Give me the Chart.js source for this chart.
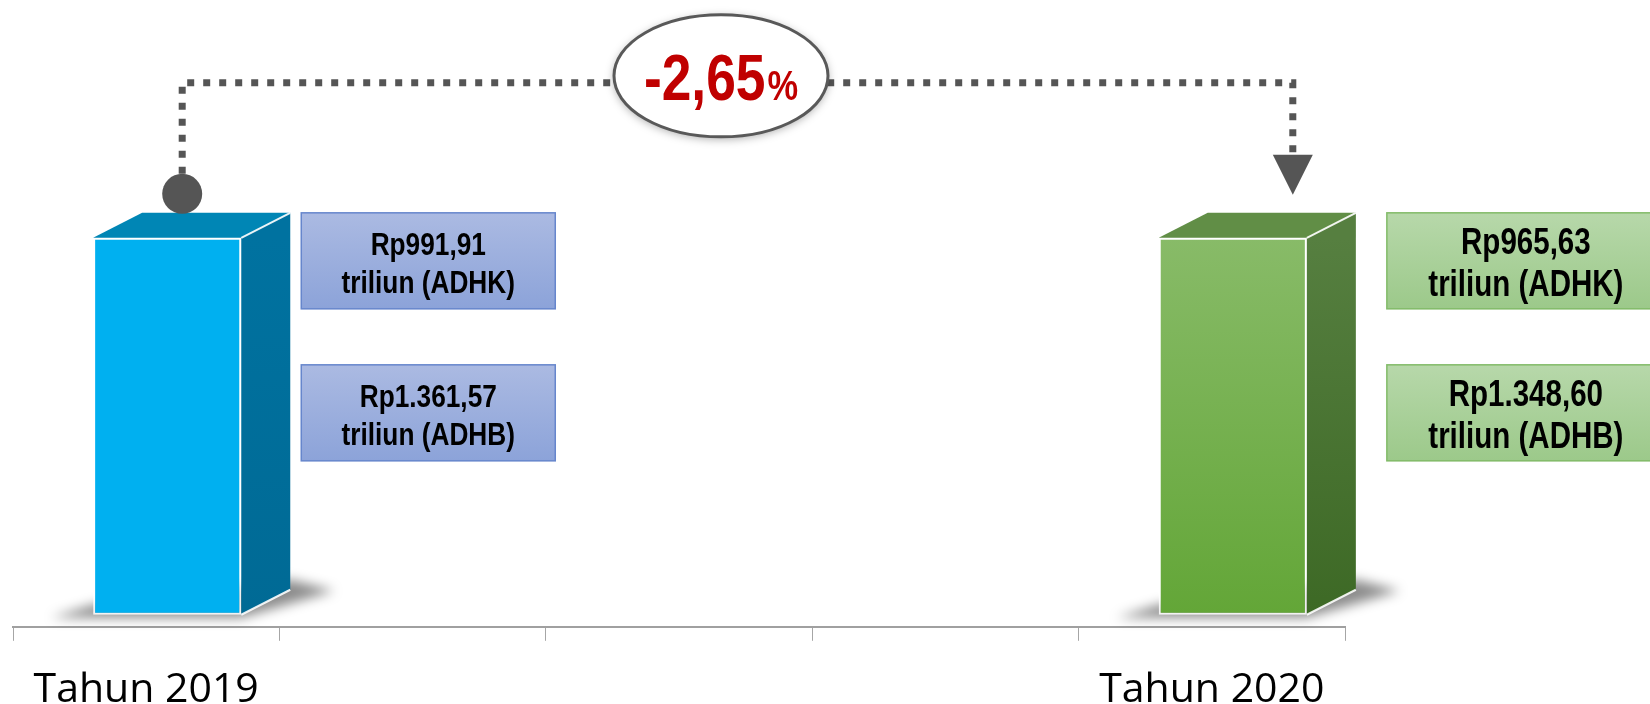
<!DOCTYPE html>
<html>
<head>
<meta charset="utf-8">
<script src="https://cdn.jsdelivr.net/npm/chart.js@4.4.1/dist/chart.umd.min.js"></script>
<style>
  html, body { margin: 0; padding: 0; background: #fff; }
  canvas { display: block; }
</style>
</head>
<body>
<canvas id="pdrbChart" width="1650" height="704"></canvas>
<script>
// data
const categories = ['Tahun 2019', '', '', '', 'Tahun 2020'];
const barValues = [100, null, null, null, 100];          // both columns drawn at the same height
const adhkValues = [991.91, null, null, null, 965.63];   // Rp triliun, constant prices
const adhbValues = [1361.57, null, null, null, 1348.60]; // Rp triliun, current prices

// styles per column
const frontTop    = ['#00B0F0', null, null, null, '#88BB68'];
const frontBottom = ['#00B0F0', null, null, null, '#63A637'];
const topFace     = ['#0086B5', null, null, null, '#618E46'];
const sideTop     = ['#0072A0', null, null, null, '#567F40'];
const sideBottom  = ['#006A95', null, null, null, '#3D6925'];
const boxTop      = ['#ABBAE2', null, null, null, '#B7D8AA'];
const boxBottom   = ['#8CA3D9', null, null, null, '#9CC98A'];
const boxBorder   = ['#6686CC', null, null, null, '#82BB68'];
const boxWidth    = [254, null, null, null, 278];
const boxGap      = [60, null, null, null, 80];
const boxFont     = [32, null, null, null, 36];

const DX = 21;              // front face shift of the 3D column
const DEPTH_X = 49, DEPTH_Y = 25;

function rupiah(v) {
  const parts = v.toFixed(2).split('.');
  return 'Rp' + parts[0].replace(/\B(?=(\d{3})+(?!\d))/g, '.') + ',' + parts[1];
}

function growthText() {
  const g = (adhkValues[4] / adhkValues[0] - 1) * 100;
  return g.toFixed(2).replace('.', ',');
}

const canvas = document.getElementById('pdrbChart');
const ctx = canvas.getContext('2d');

// is the narrow face installed? otherwise squeeze the regular one
function hasNarrow() {
  ctx.font = 'bold 40px "Liberation Sans Narrow", monospace';
  const a = ctx.measureText('Rp991,91 triliun').width;
  ctx.font = 'bold 40px monospace';
  const b = ctx.measureText('Rp991,91 triliun').width;
  return Math.abs(a - b) > 1;
}
const NARROW = hasNarrow();

function narrowText(c, text, x, y, size, align) {
  c.save();
  c.textAlign = align || 'center';
  c.textBaseline = 'alphabetic';
  if (NARROW) {
    c.font = 'bold ' + size + 'px "Liberation Sans Narrow"';
    c.fillText(text, x, y);
  } else {
    c.translate(x, y);
    c.scale(0.82, 1);
    c.font = 'bold ' + size + 'px "Liberation Sans", Arial, sans-serif';
    c.fillText(text, 0, 0);
  }
  c.restore();
}

function narrowWidth(c, text, size) {
  c.save();
  let w;
  if (NARROW) {
    c.font = 'bold ' + size + 'px "Liberation Sans Narrow"';
    w = c.measureText(text).width;
  } else {
    c.font = 'bold ' + size + 'px "Liberation Sans", Arial, sans-serif';
    w = c.measureText(text).width * 0.82;
  }
  c.restore();
  return w;
}

function frontFill(context) {
  const i = context.dataIndex;
  const chart = context.chart;
  if (!chart.chartArea || frontTop[i] === frontBottom[i]) return frontTop[i];
  const y = chart.scales.y;
  const g = chart.ctx.createLinearGradient(0, y.getPixelForValue(barValues[i]), 0, y.getPixelForValue(0));
  g.addColorStop(0, frontTop[i]);
  g.addColorStop(1, frontBottom[i]);
  return g;
}

// 3D column: shadow, top face and side face around the library's bar
const bar3d = {
  id: 'bar3d',
  beforeDatasetDraw(chart, args) {
    const c = chart.ctx;
    c.save();
    c.translate(DX, 0);
    args.meta.data.forEach(function(bar, i) {
      if (barValues[i] == null) return;
      const x0 = bar.x - bar.width / 2, x1 = bar.x + bar.width / 2, b = bar.base;
      c.save();
      c.filter = 'blur(6px)';
      c.fillStyle = 'rgba(0,0,0,0.45)';
      c.beginPath();
      c.moveTo(x0 - 42, b + 3);
      c.lineTo(x1, b + 3);
      c.lineTo(x1 + DEPTH_X + 44, b - DEPTH_Y + 1);
      c.lineTo(x1 + DEPTH_X, b - DEPTH_Y - 10);
      c.lineTo(x0, b - 10);
      c.closePath();
      c.fill();
      c.restore();
    });
  },
  afterDatasetDraw(chart, args) {
    const c = chart.ctx;
    args.meta.data.forEach(function(bar, i) {
      if (barValues[i] == null) return;
      const x0 = bar.x - bar.width / 2, x1 = bar.x + bar.width / 2;
      const t = bar.y, b = bar.base;

      c.fillStyle = topFace[i];
      c.beginPath();
      c.moveTo(x0, t);
      c.lineTo(x0 + DEPTH_X, t - DEPTH_Y);
      c.lineTo(x1 + DEPTH_X, t - DEPTH_Y);
      c.lineTo(x1, t);
      c.closePath();
      c.fill();

      const g = c.createLinearGradient(0, t, 0, b);
      g.addColorStop(0, sideTop[i]);
      g.addColorStop(1, sideBottom[i]);
      c.fillStyle = g;
      c.beginPath();
      c.moveTo(x1, t);
      c.lineTo(x1 + DEPTH_X, t - DEPTH_Y);
      c.lineTo(x1 + DEPTH_X, b - DEPTH_Y);
      c.lineTo(x1, b);
      c.closePath();
      c.fill();

      c.strokeStyle = 'rgba(255,255,255,0.9)';
      c.lineWidth = 2;
      c.beginPath();
      c.moveTo(x1, t);
      c.lineTo(x1 + DEPTH_X, t - DEPTH_Y);
      c.moveTo(x1, b);
      c.lineTo(x1 + DEPTH_X, b - DEPTH_Y);
      c.stroke();
    });
    c.restore();
  }
};

// connector, growth badge and value boxes
const annotations = {
  id: 'annotations',
  afterDraw(chart) {
    const c = chart.ctx;
    const bars = chart.getDatasetMeta(0).data;
    const first = bars[0], last = bars[4];

    const dotX = first.x + DX + 15;
    const dotY = first.y - DEPTH_Y - 19;
    const lineY = first.y - 155;
    const arrowX = last.x + DX + 60;
    const arrowTip = last.y - 43;
    const arrowTop = arrowTip - 40;

    c.save();
    c.strokeStyle = '#555555';
    c.lineWidth = 7;
    c.setLineDash([7, 9]);
    c.beginPath();
    c.moveTo(dotX, dotY - 20);
    c.lineTo(dotX, lineY);
    c.lineTo(arrowX, lineY);
    c.lineTo(arrowX, arrowTop - 2);
    c.stroke();
    c.setLineDash([]);

    c.fillStyle = '#555555';
    c.beginPath();
    c.arc(dotX, dotY, 20, 0, Math.PI * 2);
    c.fill();

    c.beginPath();
    c.moveTo(arrowX - 20, arrowTop);
    c.lineTo(arrowX + 20, arrowTop);
    c.lineTo(arrowX, arrowTip);
    c.closePath();
    c.fill();

    // growth badge
    const cx = chart.scales.x.getPixelForValue(2) + 42;
    const cy = lineY - 7;
    c.save();
    c.shadowColor = 'rgba(0,0,0,0.35)';
    c.shadowBlur = 10;
    c.shadowOffsetY = 2;
    c.fillStyle = '#ffffff';
    c.beginPath();
    c.ellipse(cx, cy, 107, 61, 0, 0, Math.PI * 2);
    c.fill();
    c.restore();
    c.strokeStyle = '#595959';
    c.lineWidth = 3;
    c.beginPath();
    c.ellipse(cx, cy, 107, 61, 0, 0, Math.PI * 2);
    c.stroke();

    const num = growthText();
    const wNum = narrowWidth(c, num, 65);
    const wPct = narrowWidth(c, '%', 42);
    const startX = cx - (wNum + wPct + 2) / 2;
    c.fillStyle = '#C00000';
    narrowText(c, num, startX, cy + 24, 65, 'left');
    narrowText(c, '%', startX + wNum + 2, cy + 24, 42, 'left');

    // value boxes
    bars.forEach(function(bar, i) {
      if (adhkValues[i] == null) return;
      const left = bar.x + DX + bar.width / 2 + boxGap[i];
      const w = boxWidth[i], h = 96;
      const rows = [
        [rupiah(adhkValues[i]), 'triliun (ADHK)'],
        [rupiah(adhbValues[i]), 'triliun (ADHB)']
      ];
      rows.forEach(function(lines, r) {
        const top = bar.y - DEPTH_Y + r * 152;
        const g = c.createLinearGradient(0, top, 0, top + h);
        g.addColorStop(0, boxTop[i]);
        g.addColorStop(1, boxBottom[i]);
        c.fillStyle = g;
        c.fillRect(left, top, w, h);
        c.strokeStyle = boxBorder[i];
        c.lineWidth = 1.5;
        c.strokeRect(left, top, w, h);

        const size = boxFont[i];
        const gap = size * 1.18;
        const mid = top + h / 2 + size * 0.716 / 2 + 1.5;
        c.fillStyle = '#000000';
        narrowText(c, lines[0], left + w / 2, mid - gap / 2, size, 'center');
        narrowText(c, lines[1], left + w / 2, mid + gap / 2, size, 'center');
      });
    });
    c.restore();
  }
};

new Chart(ctx, {
  type: 'bar',
  data: {
    labels: categories,
    datasets: [{
      data: barValues,
      backgroundColor: frontFill,
      borderColor: 'rgba(255,255,255,0.85)',
      borderWidth: 2,
      borderSkipped: false,
      categoryPercentage: 1,
      barPercentage: 0.556
    }]
  },
  options: {
    responsive: false,
    animation: false,
    devicePixelRatio: 1,
    layout: { padding: { left: 13, right: 305, top: 0, bottom: -36 } },
    scales: {
      x: {
        grid: {
          display: true,
          drawOnChartArea: false,
          drawTicks: true,
          tickLength: 14,
          color: '#A6A6A6',
          lineWidth: 1
        },
        border: { display: true, color: '#A0A0A0', width: 2 },
        ticks: {
          color: '#000000',
          padding: 25,
          maxRotation: 0,
          autoSkip: false,
          font: { family: '"Open Sans", sans-serif', size: 41, lineHeight: 1.2 }
        }
      },
      y: {
        display: false,
        min: -3.2,
        max: 163.1
      }
    },
    plugins: {
      legend: { display: false },
      tooltip: { enabled: false }
    }
  },
  plugins: [bar3d, annotations]
});
</script>
</body>
</html>
